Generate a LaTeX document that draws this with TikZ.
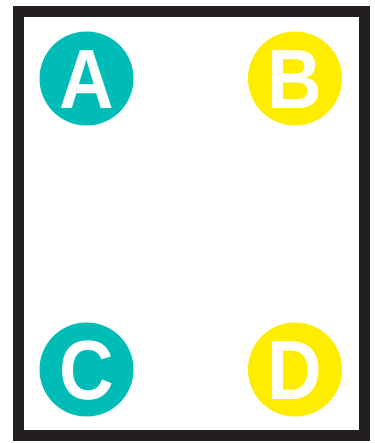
\documentclass[tikz,border=0pt]{standalone}
\usepackage{fontspec}
\setmainfont{Liberation Sans}
\definecolor{tealc}{HTML}{00BCB6}
\definecolor{yellowc}{HTML}{FFED00}
\definecolor{framec}{HTML}{231F20}
\tikzset{
  disc/.style={circle, minimum size=94pt, inner sep=0pt},
  lettr/.style={text=white, font=\fontsize{84}{84}\selectfont\bfseries, inner sep=0pt, text height=60pt, text depth=0pt, xscale=0.9},
}
\begin{document}
\begin{tikzpicture}[x=1pt,y=1pt]
\useasboundingbox (0,0) rectangle (374,443);
\draw[framec, line width=11pt] (18.3,7.5) rectangle (364.2,431.5);
\node[disc, fill=tealc] (a) at (86.5,364.5) {};
\node[disc, fill=yellowc] (b) at (295,364.5) {};
\node[disc, fill=tealc] (c) at (86.5,73.5) {};
\node[disc, fill=yellowc] (d) at (295,73.5) {};
\node[lettr] (la) at (a.center) {A};
\node[lettr] (lb) at (b.center) {B};
\node[lettr] (lc) at (c.center) {C};
\node[lettr] (ld) at (d.center) {D};
\end{tikzpicture}
\end{document}
